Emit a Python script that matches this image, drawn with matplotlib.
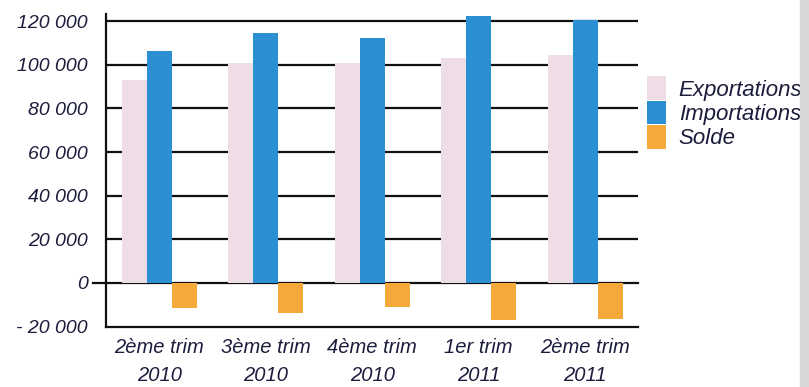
import matplotlib.pyplot as plt
import numpy as np
from matplotlib.patches import Rectangle

# trimestres et valeurs (en millions)
trimestres = ["2ème trim\n2010", "3ème trim\n2010", "4ème trim\n2010", "1er trim\n2011", "2ème trim\n2011"]
exportations = [93000, 100500, 101000, 103000, 104500]
importations = [106200, 114400, 112300, 122600, 120400]
solde = [-11400, -13700, -11000, -17000, -16500]

yticks = [-20000, 0, 20000, 40000, 60000, 80000, 100000, 120000]
ylabels = ["- 20 000", "0", "20 000", "40 000", "60 000", "80 000", "100 000", "120 000"]

c_exp = "#eedde6"
c_imp = "#2b90d2"
c_sol = "#f4aa3a"
txt = "#1c1c3c"

plt.rcParams['font.family'] = ['Liberation Sans', 'DejaVu Sans']

fig = plt.figure(figsize=(8.09, 3.87), dpi=100)
ax = fig.add_axes([0.131, 0.156, 0.658, 0.809])

x = np.arange(len(trimestres))
w = 0.235
ax.bar(x - w, exportations, w, color=c_exp, label="Exportations", zorder=2)
ax.bar(x, importations, w, color=c_imp, label="Importations", zorder=2)
ax.bar(x + w, solde, w, color=c_sol, label="Solde", zorder=2)

# lignes horizontales derriere les barres
for v in yticks[2:]:
    ax.axhline(v, color="#111111", lw=1.6, zorder=1)
ax.plot([-0.025, 1], [0, 0], color="#111111", lw=1.6, zorder=1,
        transform=ax.get_yaxis_transform(), clip_on=False)

ax.set_xlim(-0.5, len(trimestres) - 0.5)
ax.set_ylim(-20000, 123500)
ax.set_yticks(yticks)
ax.set_yticklabels(ylabels, fontsize=14)
ax.set_xticks(x)
ax.set_xticklabels(trimestres, linespacing=1.65, fontsize=14.5)
ax.tick_params(axis="both", length=0, labelcolor=txt)
ax.tick_params(axis="y", pad=13)
ax.tick_params(axis="x", pad=8)
for lab in ax.get_xticklabels() + ax.get_yticklabels():
    lab.set_style("italic")

for s in ["top", "right"]:
    ax.spines[s].set_visible(False)
for s in ["left", "bottom"]:
    ax.spines[s].set_linewidth(1.6)
    ax.spines[s].set_color("#111111")

leg = ax.legend(loc="upper left", bbox_to_anchor=(1.017, 0.80), frameon=False,
                handlelength=0.86, handleheight=1.27, labelspacing=0.0,
                handletextpad=0.55, borderaxespad=0, borderpad=0,
                prop={"size": 16, "style": "italic"})
for t in leg.get_texts():
    t.set_color(txt)

# bordure grise a droite
fig.patches.append(Rectangle((0.989, 0), 0.011, 1, transform=fig.transFigure,
                             color="#d8d8d8", zorder=0))

fig.savefig("out.png", dpi=100)
